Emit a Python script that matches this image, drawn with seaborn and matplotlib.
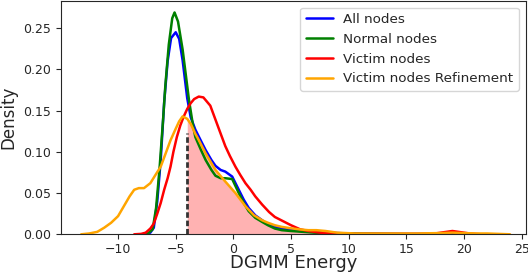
import numpy as np
import pandas as pd
import matplotlib
matplotlib.use('Agg')
import matplotlib.pyplot as plt
import seaborn as sns

sns.set_style('ticks')
plt.rcParams['font.family'] = ['DejaVu Sans']

# density curves (x = DGMM energy, d = density)
all_x = [-7.6, -7.2, -6.9, -6.6, -6.3, -6.0, -5.7, -5.4, -5.0, -4.7, -4.4, -4.0, -3.7, -3.3, -2.8, -2.4, -1.9,
         -1.55, -1.1, -0.7, -0.1, 0.47, 0.9, 1.33, 1.9, 2.5, 3.0, 3.6, 4.2, 5, 6, 7, 8, 9, 10, 12, 15, 18, 20]
all_d = [0, 0.002, 0.008, 0.040, 0.090, 0.160, 0.210, 0.238, 0.245, 0.237, 0.211, 0.165, 0.142, 0.127, 0.113,
         0.102, 0.090, 0.083, 0.078, 0.076, 0.070, 0.054, 0.042, 0.032, 0.023, 0.017, 0.012, 0.009, 0.007,
         0.005, 0.004, 0.003, 0.002, 0.0015, 0.001, 0.001, 0.0005, 0.0005, 0]

normal_x = [-7.5, -7.0, -6.7, -6.4, -6.1, -5.9, -5.6, -5.3, -5.1, -4.8, -4.4, -3.85, -3.5, -3.3, -2.8, -2.4,
            -1.9, -1.55, -1.1, -0.7, -0.1, 0.47, 0.9, 1.33, 1.9, 2.5, 3.0, 3.6, 4.2, 5, 6, 7, 8, 10, 12, 15]
normal_d = [0, 0.006, 0.032, 0.080, 0.138, 0.180, 0.230, 0.262, 0.269, 0.258, 0.224, 0.163, 0.132, 0.118,
            0.102, 0.090, 0.078, 0.071, 0.068, 0.068, 0.067, 0.050, 0.038, 0.028, 0.020, 0.015, 0.011, 0.007,
            0.005, 0.004, 0.003, 0.002, 0.0015, 0.001, 0.0005, 0]

victim_x = [-8.6, -8.0, -7.6, -7.2, -6.9, -6.6, -6.3, -6.0, -5.7, -5.45, -5.2, -4.9, -4.6, -4.3, -4.0, -3.7,
            -3.4, -3.0, -2.6, -2.0, -1.55, -1.1, -0.7, -0.3, 0.18, 0.6, 1.05, 1.5, 1.9, 2.5, 3.1, 3.6, 4.3, 5,
            5.8, 6.5, 7.5, 8.5, 10, 12, 14, 16, 17.5, 18.5, 19, 19.5, 20.5, 21.5]
victim_d = [0, 0.0005, 0.002, 0.007, 0.013, 0.025, 0.038, 0.054, 0.068, 0.082, 0.100, 0.118, 0.132, 0.143,
            0.152, 0.159, 0.164, 0.167, 0.166, 0.156, 0.139, 0.122, 0.107, 0.095, 0.082, 0.072, 0.062, 0.054,
            0.046, 0.036, 0.027, 0.021, 0.016, 0.011, 0.006, 0.004, 0.002, 0.001, 0.0005, 0.0005, 0.0005,
            0.0005, 0.001, 0.003, 0.004, 0.003, 0.001, 0]

refine_x = [-13.2, -12.5, -11.8, -11.2, -10.6, -10.0, -9.5, -9.0, -8.6, -8.2, -7.75, -7.2, -6.8, -6.3, -5.9,
            -5.45, -5.0, -4.7, -4.4, -4.0, -3.7, -3.3, -3.1, -2.4, -1.55, -0.7, 0.18, 1.05, 1.8, 2.5, 3.0, 3.6,
            4.2, 4.9, 5.7, 6.5, 7.2, 8.0, 9.0, 10.5, 12, 14, 16, 18, 19, 20, 21, 22, 23, 24]
refine_d = [0, 0.001, 0.003, 0.008, 0.014, 0.022, 0.034, 0.046, 0.054, 0.056, 0.056, 0.062, 0.071, 0.082,
            0.097, 0.114, 0.128, 0.137, 0.143, 0.140, 0.134, 0.122, 0.117, 0.098, 0.078, 0.064, 0.050, 0.034,
            0.023, 0.017, 0.014, 0.011, 0.009, 0.0075, 0.006, 0.005, 0.005, 0.004, 0.002, 0.001, 0.001, 0.001,
            0.001, 0.0015, 0.002, 0.0015, 0.001, 0.001, 0.0005, 0]

threshold = -4.0
threshold_top = 0.1225

fig = plt.figure(figsize=(5.28, 2.72), dpi=100)
ax = fig.add_axes([0.1155, 0.1386, 0.880, 0.858])

sns.lineplot(x=all_x, y=all_d, color='blue', lw=1.8, label='All nodes', ax=ax)
sns.lineplot(x=normal_x, y=normal_d, color='green', lw=1.8, label='Normal nodes', ax=ax)
sns.lineplot(x=victim_x, y=victim_d, color='red', lw=1.8, label='Victim nodes', ax=ax)
sns.lineplot(x=refine_x, y=refine_d, color='orange', lw=1.8, label='Victim nodes Refinement', ax=ax)

# shade the refinement density right of the threshold
rx = np.array(refine_x)
rd = np.array(refine_d)
mask = rx >= threshold
ax.fill_between(rx[mask], rd[mask], color='red', alpha=0.3, lw=0)
ax.vlines(threshold, 0, threshold_top, color='#333333', linestyle=(0, (2, 1)), lw=2)

ax.set_xlim(-14.95, 25.35)
ax.set_ylim(0, 0.283)
ax.set_xticks([-10, -5, 0, 5, 10, 15, 20, 25])
ax.set_yticks([0, 0.05, 0.10, 0.15, 0.20, 0.25])
ax.yaxis.set_major_formatter(matplotlib.ticker.FormatStrFormatter('%.2f'))
ax.tick_params(labelsize=9)
ax.tick_params(axis='x', pad=2.5)
ax.set_xlabel('DGMM Energy', fontsize=13, labelpad=-1)
ax.set_ylabel('Density', fontsize=12)
ax.legend(loc='upper right', fontsize=9.7)

fig.savefig('out.png', dpi=100)
